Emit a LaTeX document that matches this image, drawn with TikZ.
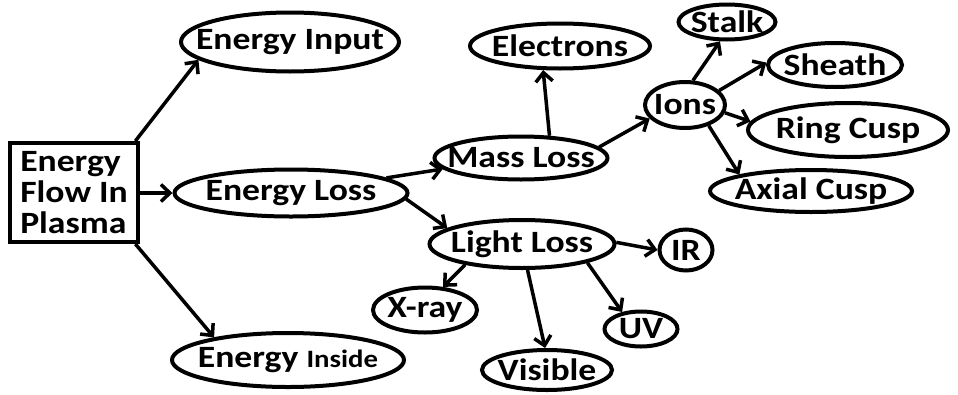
\documentclass[tikz,border=0pt]{standalone}
\usepackage{fontspec}
\setmainfont{Carlito}[FakeStretch=1.15]
\usetikzlibrary{shapes.geometric}
\usetikzlibrary{arrows.meta}

\tikzset{
    bubble/.style={ellipse, draw, line width=4pt, inner sep=0pt},
    every label/.style={inner sep=0pt, font=\bfseries\fontsize{31}{31}\selectfont},
    flowbox/.style={rectangle, draw, line width=4pt, align=left,
        inner sep=6pt, font=\bfseries\fontsize{31}{31}\selectfont},
    link/.style={line width=3.5pt, -{Straight Barb[length=9pt,width=17pt,line width=3.5pt]}}
}

\begin{document}
\begin{tikzpicture}[x=1pt,y=-1pt]
\useasboundingbox (0,0) rectangle (958,394);

\node[flowbox, minimum width=128pt, minimum height=99pt] (flow) at (74,192.5) {Energy\\Flow In\\Plasma};

\node[bubble, minimum width=218pt, minimum height=59pt, label=center:Energy Input] (input) at (290,42) {};
\node[bubble, minimum width=233pt, minimum height=47pt, label=center:Energy Loss] (eloss) at (291,193) {};
\node[bubble, minimum width=232pt, minimum height=54pt,
    label=center:{Energy {\fontsize{25}{25}\selectfont Inside}}] (inside) at (288,360) {};

\node[bubble, minimum width=180pt, minimum height=45pt, label=center:Electrons] (electrons) at (560,46) {};
\node[bubble, minimum width=173pt, minimum height=43pt, label=center:Mass Loss] (massloss) at (521,158) {};
\node[bubble, minimum width=80pt, minimum height=46pt, label=center:Ions] (ions) at (685,105) {};
\node[bubble, minimum width=97pt, minimum height=35pt, label=center:Stalk] (stalk) at (727,22) {};
\node[bubble, minimum width=134pt, minimum height=44pt, label=center:Sheath] (sheath) at (835,65) {};
\node[bubble, minimum width=200pt, minimum height=54pt, label=center:Ring Cusp] (ring) at (848,130) {};
\node[bubble, minimum width=202pt, minimum height=42pt, label=center:Axial Cusp] (axial) at (811,191) {};

\node[bubble, minimum width=185pt, minimum height=48pt, label=center:Light Loss] (lightloss) at (522,244) {};
\node[bubble, minimum width=53pt, minimum height=41pt, label=center:IR] (ir) at (686,250) {};
\node[bubble, minimum width=104pt, minimum height=45pt, label=center:X-ray] (xray) at (425,310) {};
\node[bubble, minimum width=73pt, minimum height=35pt, label=center:UV] (uv) at (641,329) {};
\node[bubble, minimum width=130pt, minimum height=40pt, label=center:Visible] (visible) at (547,370) {};

\draw[link] (flow.40)--(input.-169);
\draw[link] (flow.east |- eloss.west)--(eloss.west);
\draw[link] (flow.-40)--(inside.163);
\draw[link] (eloss.9)--(massloss.-172);
\draw[link] (eloss.-3)--(lightloss.168);
\draw[link] (massloss.38)--(electrons.-125);
\draw[link] (massloss.8)--(ions.-159);
\draw[link] (ions.72)--(stalk.-110);
\draw[link] (ions.23)--(sheath.178);
\draw[link] (ions.-11)--(ring.175);
\draw[link] (ions.-41)--(axial.167);
\draw[link] (lightloss.1)--(ir.180);
\draw[link] (lightloss.-160)--(xray.52);
\draw[link] (lightloss.-78)--(visible.95);
\draw[link] (lightloss.-16)--(uv.138);
\end{tikzpicture}
\end{document}
